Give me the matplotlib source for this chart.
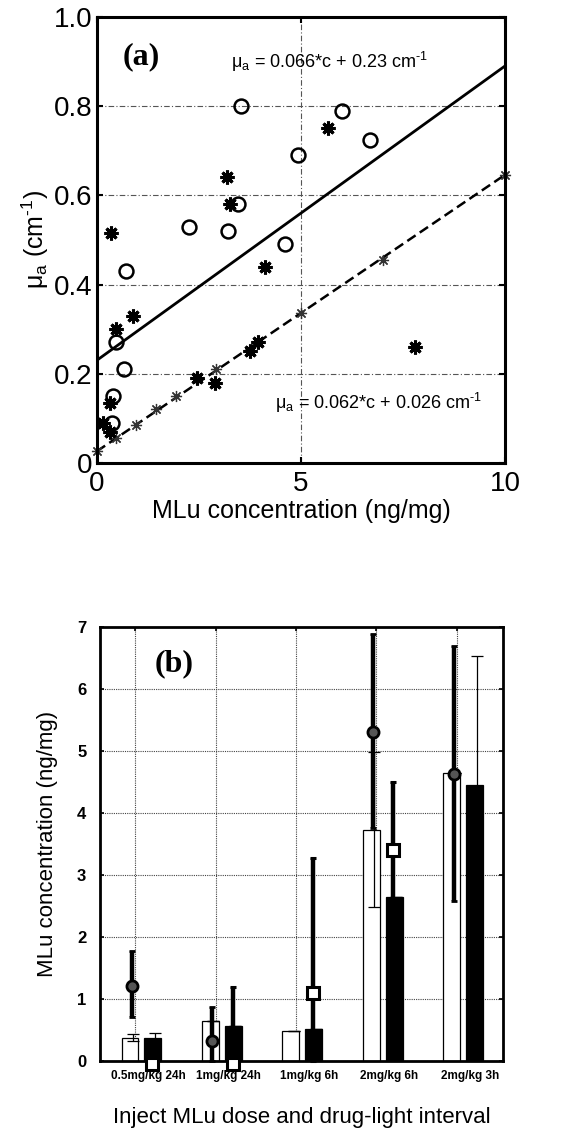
import numpy as np
import matplotlib
matplotlib.use('Agg')
import matplotlib.pyplot as plt

plt.rcParams['font.family'] = ['Liberation Sans', 'DejaVu Sans']
plt.rcParams['mathtext.fontset'] = 'custom'
plt.rcParams['mathtext.rm'] = 'Liberation Sans'
plt.rcParams['mathtext.it'] = 'Liberation Sans:italic'

# ---- panel (a) data ----
circ_c = [3.53, 6.0, 6.69, 4.92, 3.45, 2.26, 3.22, 4.61, 0.71, 0.47, 0.66, 0.40, 0.36]
circ_mu = [0.80, 0.79, 0.724, 0.69, 0.58, 0.53, 0.52, 0.49, 0.43, 0.27, 0.21, 0.15, 0.09]
star_c = [5.67, 3.18, 3.26, 0.34, 4.12, 0.89, 0.48, 7.79, 0.32, 0.16, 0.32, 2.45, 2.9, 3.75, 3.95]
star_mu = [0.75, 0.64, 0.58, 0.515, 0.44, 0.33, 0.30, 0.26, 0.135, 0.09, 0.07, 0.19, 0.18, 0.25, 0.27]
fit_c = [0.0, 0.48, 0.97, 1.46, 1.95, 2.44, 2.93, 3.95, 5.0, 7.0, 10.0]
fit_mu = [0.026, 0.055, 0.085, 0.12, 0.15, 0.19, 0.21, 0.27, 0.335, 0.455, 0.646]
slope1, icpt1 = 0.066, 0.23
slope2, icpt2 = 0.062, 0.026

# ---- panel (b) data ----
groups = ['0.5mg/kg 24h', '1mg/kg 24h', '1mg/kg 6h', '2mg/kg 6h', '2mg/kg 3h']
open_bar = [0.38, 0.65, 0.48, 3.73, 4.64]
open_err = [0.06, 0.0, 0.0, 1.25, 0.0]
black_bar = [0.37, 0.57, 0.52, 2.65, 4.45]
black_err = [0.08, 0.0, 0.0, 0.0, 2.08]
circ_mean = [1.22, 0.33, np.nan, 5.30, 4.62]
circ_lo = [0.72, 0.0, np.nan, 3.75, 2.58]
circ_hi = [1.78, 0.88, np.nan, 6.88, 6.68]
sq_mean = [-0.04, -0.04, 1.10, 3.40, np.nan]
sq_lo = [-0.04, -0.04, 0.0, 2.30, np.nan]
sq_hi = [-0.04, 1.20, 3.28, 4.50, np.nan]

fig = plt.figure(figsize=(5.63, 11.29), dpi=100)

# ================= (a) =================
ax = fig.add_axes([0.172, 0.590, 0.725, 0.395])
gridstyle = dict(color='#555555', linestyle=(0, (5, 2, 1, 2)), linewidth=0.8)
ax.grid(True, **gridstyle)
ax.set_axisbelow(True)

xx = np.array([0, 10])
ax.plot(xx, slope1 * xx + icpt1, color='black', lw=2)
ax.plot(xx, slope2 * xx + icpt2, color='black', lw=1.8, ls=(0, (4, 2)))
ax.plot(fit_c, fit_mu, ls='none', marker=(8, 2, 0), ms=8, mew=0.9, color='#333333', clip_on=False)
ax.plot(star_c, star_mu, ls='none', marker=(8, 2, 0), ms=10, mew=2.2, color='black')
ax.plot(circ_c, circ_mu, ls='none', marker='o', ms=10, mew=1.8, mfc='none', mec='black')

ax.set_xlim(0, 10)
ax.set_ylim(0, 1.0)
ax.set_xticks([0, 5, 10])
ax.set_yticks([0, 0.2, 0.4, 0.6, 0.8, 1.0])
ax.set_xticklabels(['0', '5', '10'])
ax.set_yticklabels(['0', '0.2', '0.4', '0.6', '0.8', '1.0'])
ax.tick_params(direction='in', top=True, right=True, labelsize=20, length=4, width=1.5, pad=3)
ax.tick_params(axis='x', pad=6)
for s in ax.spines.values():
    s.set_linewidth(2.2)
ax.set_xlabel('MLu concentration (ng/mg)', fontsize=18, labelpad=1)
ax.set_ylabel(r'$\mathregular{\mu_a}$ (cm$^{\mathregular{\text{-}1}}$)', fontsize=18, labelpad=2)

ax.text(1.1, 0.91, '(a)', family='Liberation Serif', fontweight='bold', fontsize=23,
        ha='center', va='center')
ax.text(5.7, 0.90, r'$\mathregular{\mu_a}$ = 0.066*c + 0.23 cm$^{\mathregular{\text{-}1}}$',
        fontsize=13, ha='center', va='center')
ax.text(6.9, 0.135, r'$\mathregular{\mu_a}$ = 0.062*c + 0.026 cm$^{\mathregular{\text{-}1}}$',
        fontsize=13, ha='center', va='center')

# ================= (b) =================
bx = fig.add_axes([0.178, 0.060, 0.715, 0.385])
bx.grid(True, color='#444444', linestyle=(0, (1, 1)), linewidth=0.8)
bx.set_axisbelow(True)

pos = np.arange(1, len(groups) + 1)
w = 0.21
bx.bar(pos - 0.065, open_bar, width=w, color='white', edgecolor='black', lw=0.9, zorder=2)
bx.bar(pos + 0.22, black_bar, width=w, color='black', edgecolor='black', lw=0.9, zorder=2)
bx.errorbar(pos - 0.03, open_bar, yerr=open_err, fmt='none', ecolor='black',
            elinewidth=0.9, capsize=4, capthick=0.9, zorder=3)
bx.errorbar(pos + 0.245, black_bar, yerr=black_err, fmt='none', ecolor='black',
            elinewidth=0.9, capsize=4, capthick=0.9, zorder=3)

cm = np.array(circ_mean)
cerr = [cm - np.array(circ_lo), np.array(circ_hi) - cm]
bx.errorbar(pos - 0.04, cm, yerr=cerr, fmt='o', ms=8, mfc='#555555', mec='black', mew=2,
            ecolor='black', elinewidth=3.2, capsize=2.5, capthick=3, zorder=4, clip_on=False)
sm = np.array(sq_mean)
serr = [sm - np.array(sq_lo), np.array(sq_hi) - sm]
bx.errorbar(pos + 0.21, sm, yerr=serr, fmt='s', ms=8, mfc='white', mec='black', mew=2.2,
            ecolor='black', elinewidth=3.2, capsize=2.5, capthick=3, zorder=4, clip_on=False)

bx.set_xlim(0.565, 5.57)
bx.set_ylim(0, 7)
bx.set_yticks(range(0, 8))
bx.set_xticks(pos)
bx.set_xticklabels([])
bx.set_xticks(pos + 0.16, minor=True)
bx.set_xticklabels(groups, minor=True, fontsize=8.5, fontweight='bold')
bx.tick_params(axis='x', which='minor', length=0, pad=6)
bx.tick_params(direction='in', top=True, right=True, length=3, width=1.2)
bx.tick_params(axis='y', labelsize=12, pad=10)
for lab in bx.get_yticklabels():
    lab.set_fontweight('bold')
for s in bx.spines.values():
    s.set_linewidth(2)
bx.set_xlabel('Inject MLu dose and drug-light interval', fontsize=16, labelpad=18)
bx.set_ylabel('MLu concentration (ng/mg)', fontsize=16, labelpad=14)

bx.text(1.49, 6.4, '(b)', family='Liberation Serif', fontweight='bold', fontsize=23,
        ha='center', va='center')

fig.savefig('out.png', dpi=100)
